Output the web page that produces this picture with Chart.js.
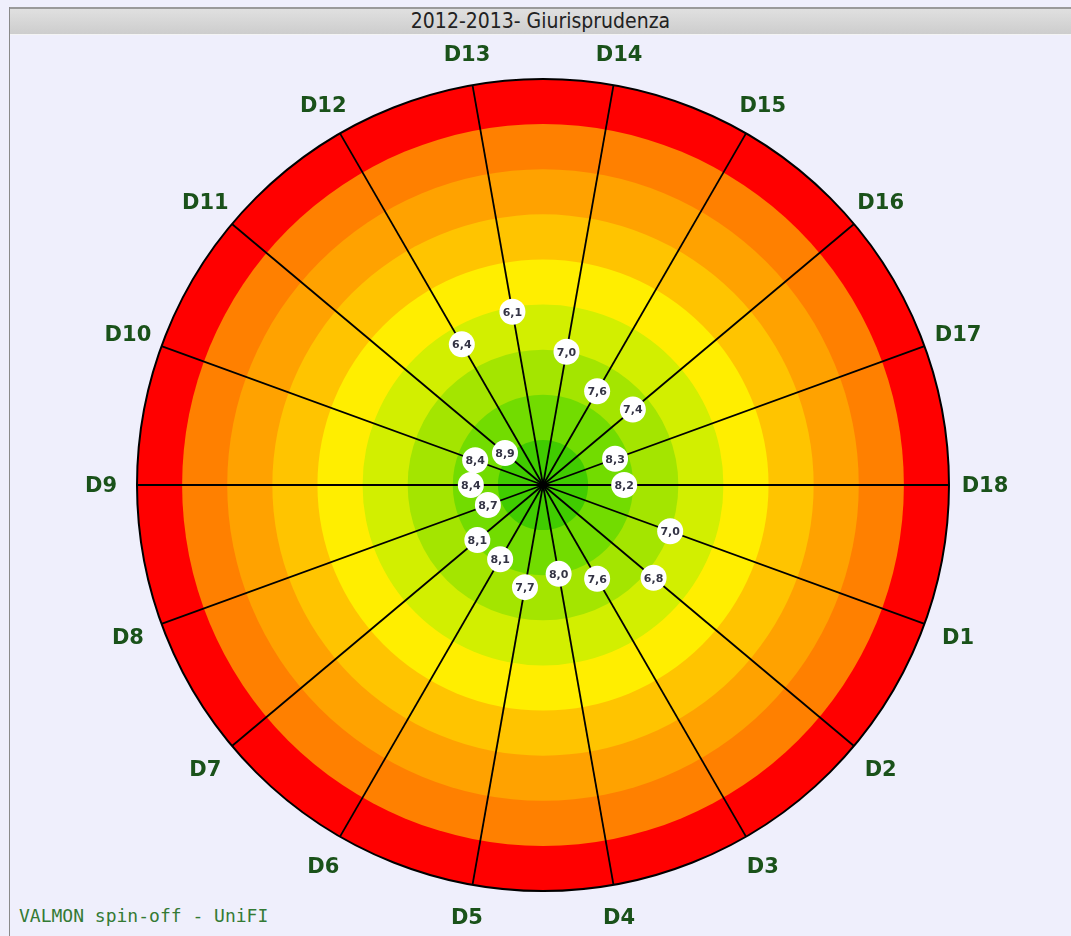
<!DOCTYPE html>
<html><head><meta charset="utf-8">
<script src="https://cdn.jsdelivr.net/npm/chart.js@4.4.1/dist/chart.umd.min.js"></script>
<style>
html,body{margin:0;padding:0;background:#efeffc;width:1071px;height:936px;overflow:hidden;}
#frame{position:absolute;left:9px;top:7px;width:1062px;height:929px;border-left:1px solid #8a8a8a;}
#title{position:absolute;left:10px;top:7px;width:1061px;height:25px;background:linear-gradient(#e0e0e0,#cdcdcd);border-top:2px solid #9a9a9a;border-bottom:1px solid #f4f4f4;font:21px 'DejaVu Sans Condensed','DejaVu Sans',sans-serif;color:#222;text-align:center;line-height:25px;}
#footer{position:absolute;left:19px;top:905px;font:18px 'DejaVu Sans Mono',monospace;color:#347a34;white-space:pre;}
#c{position:absolute;left:0;top:0;}
</style></head>
<body>
<div id="frame"></div>
<div id="title">2012-2013- Giurisprudenza</div>
<div id="footer">VALMON spin-off - UniFI</div>
<canvas id="c" width="1071" height="936"></canvas>
<script>
const categories = ['D1','D2','D3','D4','D5','D6','D7','D8','D9','D10','D11','D12','D13','D14','D15','D16','D17','D18'];
const values = [7.0, 6.8, 7.6, 8.0, 7.7, 8.1, 8.1, 8.7, 8.4, 8.4, 8.9, 6.4, 6.1, 7.0, 7.6, 7.4, 8.3, 8.2];
const ringBounds = [1, 2, 3, 4, 5, 6, 7, 8, 9];
const ringColors = ['#ff0000','#ff8000','#ffa200','#ffc400','#ffee00','#d2ef00','#a4e500','#72dc00','#40cc00'];

const ringsPlugin = {
  id: 'rings',
  beforeDraw(chart) {
    const s = chart.scales.r, ctx = chart.ctx;
    ctx.save();
    ringBounds.forEach((v, i) => {
      const rad = s.getDistanceFromCenterForValue(v);
      ctx.beginPath();
      ctx.arc(s.xCenter, s.yCenter, rad, 0, Math.PI * 2);
      ctx.fillStyle = ringColors[i];
      ctx.fill();
    });
    const outer = s.getDistanceFromCenterForValue(ringBounds[0]);
    ctx.beginPath();
    ctx.arc(s.xCenter, s.yCenter, outer, 0, Math.PI * 2);
    ctx.lineWidth = 2;
    ctx.strokeStyle = '#000';
    ctx.stroke();
    ctx.restore();
  },
  afterDatasetsDraw(chart) {
    const s = chart.scales.r, ctx = chart.ctx, meta = chart.getDatasetMeta(0);
    ctx.save();
    ctx.font = 'bold 11px "DejaVu Sans", sans-serif';
    ctx.fillStyle = '#333344';
    ctx.textAlign = 'center';
    ctx.textBaseline = 'middle';
    meta.data.forEach((pt, i) => {
      ctx.fillText(values[i].toFixed(1).replace('.', ','), pt.x, pt.y + 1);
    });
    // axis labels, centred on the extension of each spoke
    const outer = s.getDistanceFromCenterForValue(ringBounds[0]);
    ctx.font = 'bold 21px "DejaVu Sans", sans-serif';
    ctx.fillStyle = '#1a521a';
    categories.forEach((lab, i) => {
      const a = (s.getIndexAngle(i) - Math.PI / 2);
      const p = s.getPointPosition(i, outer + 31 + 5 * Math.abs(Math.cos(a)));
      ctx.fillText(lab, p.x, p.y + 2);
    });
    ctx.restore();
  }
};

new Chart(document.getElementById('c'), {
  type: 'radar',
  data: {
    labels: categories,
    datasets: [{
      data: values,
      showLine: false,
      fill: false,
      borderWidth: 0,
      pointRadius: 13,
      pointHoverRadius: 13,
      pointBackgroundColor: '#ffffff',
      pointBorderWidth: 0
    }]
  },
  options: {
    responsive: false,
    animation: false,
    layout: { padding: { left: 15, right: 0, top: 79, bottom: 45 } },
    plugins: { legend: { display: false }, tooltip: { enabled: false } },
    scales: {
      r: {
        min: 1, max: 10, reverse: true, startAngle: 110,
        ticks: { display: false, reverse: true, stepSize: 1 },
        grid: { display: false },
        angleLines: { display: true, color: '#000', lineWidth: 1.8 },
        pointLabels: { display: false }
      }
    }
  },
  plugins: [ringsPlugin]
});
</script>
</body></html>
